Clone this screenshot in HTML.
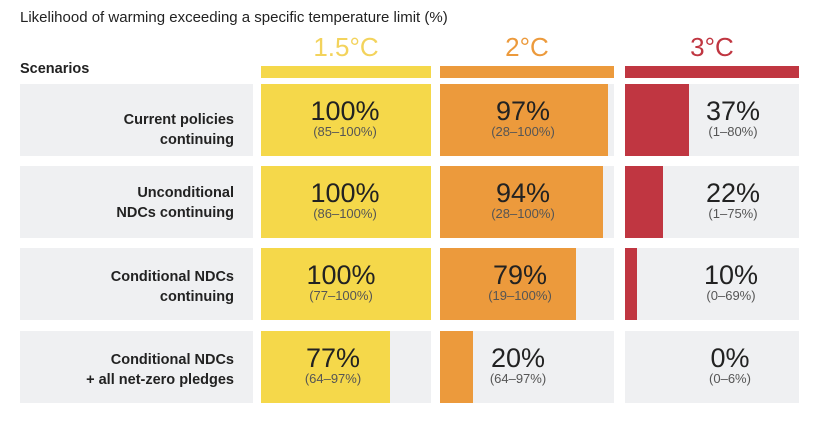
<!DOCTYPE html><html><head><style>
body{margin:0;width:816px;height:421px;background:#fff;font-family:"Liberation Sans",sans-serif;position:relative;overflow:hidden}
div{position:absolute}
.t{font-size:15px;color:#222;left:20px;top:9px}
.h{font-size:26px;font-weight:300;text-align:center;top:32px}
.hb{top:66px;height:12px}
.g{background:#eff0f2}
.lab{left:20px;width:214px;text-align:right;font-size:14.5px;font-weight:bold;color:#222;line-height:20px}
.n{text-align:center;color:#222;width:120px;margin-left:-60px}
.n b{display:block;font-weight:normal;font-size:27px;line-height:28px}
.n i{display:block;font-style:normal;font-size:13px;color:#555;line-height:14px}
</style></head><body>
<div class="t">Likelihood of warming exceeding a specific temperature limit (%)</div>
<div style="left:20px;top:61px;font-size:14.5px;font-weight:bold;color:#222">Scenarios</div>
<div class="h" style="left:261px;width:170px;color:#f3d35c">1.5°C</div>
<div class="h" style="left:440px;width:174px;color:#ec9a3c">2°C</div>
<div class="h" style="left:625px;width:174px;color:#c03641">3°C</div>
<div class="hb" style="left:261px;width:170px;background:#f5d84a"></div>
<div class="hb" style="left:440px;width:174px;background:#ec9a3c"></div>
<div class="hb" style="left:625px;width:174px;background:#c03641"></div>

<!-- rows -->
<div class="g" style="left:20px;top:84px;width:233px;height:72px"></div>
<div class="g" style="left:20px;top:166px;width:233px;height:72px"></div>
<div class="g" style="left:20px;top:248px;width:233px;height:72px"></div>
<div class="g" style="left:20px;top:331px;width:233px;height:72px"></div>
<div class="lab" style="top:110px">Current policies<br>continuing</div>
<div class="lab" style="top:183px">Unconditional<br>NDCs continuing</div>
<div class="lab" style="top:267px">Conditional NDCs<br>continuing</div>
<div class="lab" style="top:350px">Conditional NDCs<br>+ all net-zero pledges</div>

<div class="g" style="left:261px;top:84px;width:170px;height:72px"></div>
<div class="g" style="left:261px;top:166px;width:170px;height:72px"></div>
<div class="g" style="left:261px;top:248px;width:170px;height:72px"></div>
<div class="g" style="left:261px;top:331px;width:170px;height:72px"></div>
<div style="left:261px;top:84px;width:170px;height:72px;background:#f5d84a"></div>
<div style="left:261px;top:166px;width:170px;height:72px;background:#f5d84a"></div>
<div style="left:261px;top:248px;width:170px;height:72px;background:#f5d84a"></div>
<div style="left:261px;top:331px;width:129px;height:72px;background:#f5d84a"></div>

<div class="g" style="left:440px;top:84px;width:174px;height:72px"></div>
<div class="g" style="left:440px;top:166px;width:174px;height:72px"></div>
<div class="g" style="left:440px;top:248px;width:174px;height:72px"></div>
<div class="g" style="left:440px;top:331px;width:174px;height:72px"></div>
<div style="left:440px;top:84px;width:168px;height:72px;background:#ec9a3c"></div>
<div style="left:440px;top:166px;width:163px;height:72px;background:#ec9a3c"></div>
<div style="left:440px;top:248px;width:136px;height:72px;background:#ec9a3c"></div>
<div style="left:440px;top:331px;width:33px;height:72px;background:#ec9a3c"></div>

<div class="g" style="left:625px;top:84px;width:174px;height:72px"></div>
<div class="g" style="left:625px;top:166px;width:174px;height:72px"></div>
<div class="g" style="left:625px;top:248px;width:174px;height:72px"></div>
<div class="g" style="left:625px;top:331px;width:174px;height:72px"></div>
<div style="left:625px;top:84px;width:64px;height:72px;background:#c03641"></div>
<div style="left:625px;top:166px;width:38px;height:72px;background:#c03641"></div>
<div style="left:625px;top:248px;width:12px;height:72px;background:#c03641"></div>

<div class="n" style="left:345px;top:97px"><b>100%</b><i>(85–100%)</i></div>
<div class="n" style="left:345px;top:179px"><b>100%</b><i>(86–100%)</i></div>
<div class="n" style="left:341px;top:261px"><b>100%</b><i>(77–100%)</i></div>
<div class="n" style="left:333px;top:344px"><b>77%</b><i>(64–97%)</i></div>

<div class="n" style="left:523px;top:97px"><b>97%</b><i>(28–100%)</i></div>
<div class="n" style="left:523px;top:179px"><b>94%</b><i>(28–100%)</i></div>
<div class="n" style="left:520px;top:261px"><b>79%</b><i>(19–100%)</i></div>
<div class="n" style="left:518px;top:344px"><b>20%</b><i>(64–97%)</i></div>

<div class="n" style="left:733px;top:97px"><b>37%</b><i>(1–80%)</i></div>
<div class="n" style="left:733px;top:179px"><b>22%</b><i>(1–75%)</i></div>
<div class="n" style="left:731px;top:261px"><b>10%</b><i>(0–69%)</i></div>
<div class="n" style="left:730px;top:344px"><b>0%</b><i>(0–6%)</i></div>
</body></html>
